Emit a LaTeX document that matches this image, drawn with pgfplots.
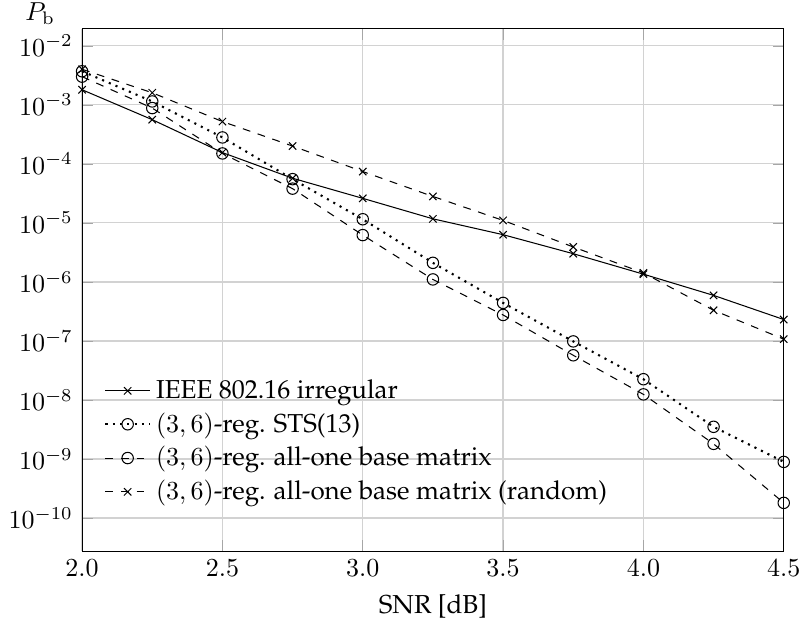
\documentclass[border=0pt]{standalone}
\usepackage[T1]{fontenc}
\renewcommand{\rmdefault}{ppl}
\usepackage{pgfplots}
\pgfplotsset{compat=1.18}
\begin{document}
\begin{tikzpicture}
\begin{axis}[
  scale only axis,
  width=270pt, height=201pt,
  ymode=log,
  xmin=2.0, xmax=4.5,
  ymin=2.75e-11, ymax=1.95e-2,
  xtick={2.0,2.5,3.0,3.5,4.0,4.5},
  ytick={1e-2,1e-3,1e-4,1e-5,1e-6,1e-7,1e-8,1e-9,1e-10},
  xticklabel style={/pgf/number format/.cd, fixed, fixed zerofill, precision=1},
  grid=major,
  major grid style={gray!35, line width=0.5pt},
  tick style={gray!70},
  xlabel={SNR [dB]},
  ylabel={$P_\mathrm{b}$},
  every axis y label/.style={at={(rel axis cs:0,1)}, anchor=south west, xshift=-23pt, yshift=0.5pt, inner sep=1pt},
  clip=false,
  legend style={draw=none, fill=none, at={(0.02,0.07)}, anchor=south west, row sep=0pt},
  legend cell align=left,
  legend image code/.code={\draw[mark repeat=2,mark phase=2] plot coordinates {(0cm,0cm) (0.3cm,0cm) (0.6cm,0cm)};},
]
\addplot[black, mark=x, mark size=2pt] coordinates {
(2.0,1.8e-3) (2.25,5.6e-4) (2.5,1.55e-4) (2.75,5.7e-5) (3.0,2.6e-5) (3.25,1.17e-5)
(3.5,6.3e-6) (3.75,3.0e-6) (4.0,1.35e-6) (4.25,5.9e-7) (4.5,2.3e-7)};
\addlegendentry{IEEE 802.16 irregular}
\addplot[black, dotted, thick, mark=o, mark size=2.2pt, mark options={solid, thin}] coordinates {
(2.0,3.7e-3) (2.25,1.14e-3) (2.5,2.8e-4) (2.75,5.5e-5) (3.0,1.15e-5) (3.25,2.1e-6)
(3.5,4.4e-7) (3.75,9.8e-8) (4.0,2.24e-8) (4.25,3.5e-9) (4.5,8.9e-10)};
\addlegendentry{$(3,6)$-reg. STS(13)}
\addplot[black, dashed, mark=o, mark size=2.2pt, mark options={solid}] coordinates {
(2.0,3.0e-3) (2.25,8.8e-4) (2.5,1.5e-4) (2.75,3.8e-5) (3.0,6.2e-6) (3.25,1.1e-6)
(3.5,2.75e-7) (3.75,5.7e-8) (4.0,1.24e-8) (4.25,1.8e-9) (4.5,1.8e-10)};
\addlegendentry{$(3,6)$-reg. all-one base matrix}
\addplot[black, dashed, mark=x, mark size=2pt, mark options={solid}] coordinates {
(2.0,4.0e-3) (2.25,1.6e-3) (2.5,5.2e-4) (2.75,2.0e-4) (3.0,7.4e-5) (3.25,2.8e-5)
(3.5,1.1e-5) (3.75,3.9e-6) (4.0,1.42e-6) (4.25,3.3e-7) (4.5,1.07e-7)};
\addlegendentry{$(3,6)$-reg. all-one base matrix (random)}
\end{axis}
\end{tikzpicture}
\end{document}
